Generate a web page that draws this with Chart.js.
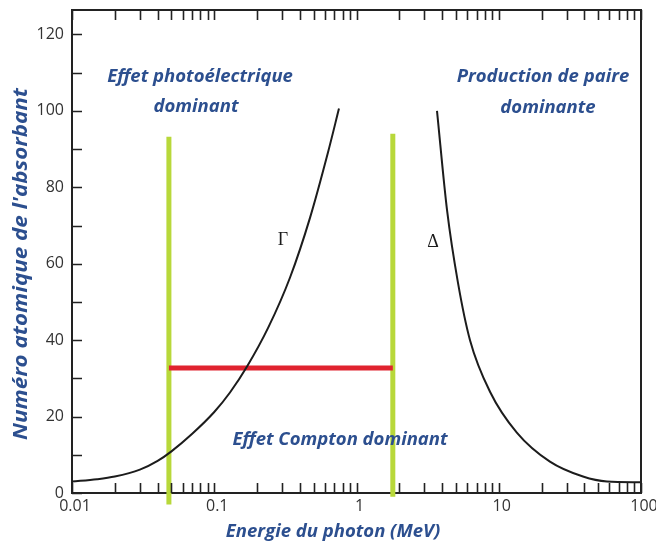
<!DOCTYPE html>
<html>
<head>
<meta charset="utf-8">
<script src="https://cdn.jsdelivr.net/npm/chart.js@4.4.1/dist/chart.umd.min.js"></script>
<style>
  html, body { margin: 0; padding: 0; background: #ffffff; }
  #wrap { width: 656px; height: 544px; }
</style>
</head>
<body>
<div id="wrap"><canvas id="c" width="656" height="544"></canvas></div>
<script>
// ---- data ----
const gammaEnergy = [0.01, 0.015, 0.02, 0.03, 0.04, 0.05, 0.07, 0.1, 0.129, 0.17, 0.239, 0.341, 0.471, 0.63, 0.753];
const gammaZ      = [3.0, 3.6, 4.3, 6.1, 8.4, 10.9, 15.5, 21.2, 26.3, 33.1, 43.2, 56.4, 72.0, 89.1, 100.6];

const deltaEnergy = [3.68, 4.33, 5.17, 6.28, 8.68, 13.4, 22.9, 39.1, 57.7, 100];
const deltaZ      = [100, 74, 55, 40, 26.5, 15.8, 8.2, 4.3, 3.0, 2.8];

const greenLeftEnergy  = [0.048, 0.048];
const greenLeftZ       = [93.2, -3];
const greenRightEnergy = [1.8, 1.8];
const greenRightZ      = [94, -1];

const redEnergy = [0.048, 1.8];
const redZ      = [32.7, 32.7];

const xTickLabels = ['0.01', '0.1', '1', '10', '100'];
const xDecades    = [0.01, 0.1, 1, 10, 100];
const yTickLabels = [0, 20, 40, 60, 80, 100, 120];
const yMinorTicks = [10, 30, 50, 70, 90, 110];

const regionTexts = [
  ['Effet photoélectrique', 'dominant'],
  ['Production de paire', 'dominante'],
  ['Effet Compton dominant']
];
const curveNames = ['Γ', 'Δ'];
const xTitle = 'Energie du photon (MeV)';
const yTitle = "Numéro atomique de l'absorbant";

// ---- build ----
const pts = (xs, ys) => xs.map((v, i) => ({ x: v, y: ys[i] }));

const xTickValues = [];
for (let d = 0; d < xDecades.length - 1; d++) {
  for (let m = 1; m <= 9; m++) xTickValues.push(+(xDecades[d] * m).toPrecision(6));
}
xTickValues.push(100);

const BLUE = '#2c4f8f';
const BLACK = '#1c1c1c';
const GREEN = '#b8d83a';
const RED = '#e0232f';
const ANNOT_FONT = "'Open Sans', sans-serif";

const decor = {
  id: 'decor',
  afterDraw(chart) {
    const ctx = chart.ctx;
    const xs = chart.scales.x, ys = chart.scales.y;
    ctx.save();
    // frame top/right
    ctx.strokeStyle = '#222';
    ctx.lineWidth = 2;
    ctx.beginPath();
    ctx.moveTo(xs.left, ys.top);
    ctx.lineTo(xs.right, ys.top);
    ctx.lineTo(xs.right, ys.bottom);
    ctx.stroke();
    // inward ticks
    ctx.lineWidth = 1.6;
    ctx.beginPath();
    xs.ticks.forEach(t => {
      const px = Math.round(xs.getPixelForValue(t.value)) + 0.5;
      ctx.moveTo(px, ys.bottom); ctx.lineTo(px, ys.bottom - 10);
      ctx.moveTo(px, ys.top); ctx.lineTo(px, ys.top + 10);
    });
    ys.ticks.forEach(t => {
      const py = Math.round(ys.getPixelForValue(t.value)) + 0.5;
      ctx.moveTo(xs.left, py); ctx.lineTo(xs.left + 10, py);
    });
    ctx.stroke();

    // region annotations
    ctx.fillStyle = BLUE;
    ctx.textAlign = 'center';
    ctx.textBaseline = 'middle';
    ctx.font = "italic bold 18.5px " + ANNOT_FONT;
    ctx.fillText(regionTexts[0][0], 200, 77);
    ctx.fillText(regionTexts[0][1], 196, 107);
    ctx.fillText(regionTexts[1][0], 543, 77);
    ctx.fillText(regionTexts[1][1], 548, 108);
    ctx.fillText(regionTexts[2][0], 340, 440);
    // axis titles
    ctx.fillText(xTitle, 333, 532);
    ctx.save();
    ctx.translate(22, 264);
    ctx.rotate(-Math.PI / 2);
    ctx.font = "italic bold 19px " + ANNOT_FONT;
    const w = ctx.measureText(yTitle).width;
    ctx.scale(352 / w, 1);
    ctx.fillText(yTitle, 0, 0);
    ctx.restore();

    // curve names
    ctx.fillStyle = BLACK;
    ctx.font = "18px 'Liberation Serif', 'DejaVu Serif', serif";
    ctx.fillText(curveNames[0], 283, 240);
    ctx.fillText(curveNames[1], 433, 242);
    ctx.restore();
  }
};

new Chart(document.getElementById('c'), {
  type: 'line',
  data: {
    datasets: [
      { label: 'Γ', data: pts(gammaEnergy, gammaZ), borderColor: BLACK, borderWidth: 2,
        pointRadius: 0, cubicInterpolationMode: 'monotone', fill: false, order: 1 },
      { label: 'Δ', data: pts(deltaEnergy, deltaZ), borderColor: BLACK, borderWidth: 2,
        pointRadius: 0, cubicInterpolationMode: 'monotone', fill: false, order: 1 },
      { label: 'Z', data: pts(redEnergy, redZ), borderColor: RED, borderWidth: 5,
        pointRadius: 0, tension: 0, fill: false, order: 2, borderCapStyle: 'butt' },
      { label: 'E1', data: pts(greenLeftEnergy, greenLeftZ), borderColor: GREEN, borderWidth: 5,
        pointRadius: 0, tension: 0, fill: false, clip: false, order: 3 },
      { label: 'E2', data: pts(greenRightEnergy, greenRightZ), borderColor: GREEN, borderWidth: 5,
        pointRadius: 0, tension: 0, fill: false, clip: false, order: 3 }
    ]
  },
  options: {
    responsive: false,
    devicePixelRatio: 1,
    animation: false,
    layout: { padding: { left: 0, top: 10, right: 15, bottom: 0 } },
    plugins: { legend: { display: false }, tooltip: { enabled: false } },
    scales: {
      x: {
        type: 'logarithmic',
        min: 0.01, max: 100,
        grid: { display: false, drawTicks: false },
        border: { display: true, color: '#222', width: 2 },
        afterBuildTicks: (s) => { s.ticks = xTickValues.map(v => ({ value: v })); },
        afterFit: (s) => { s.height = 51; s.paddingLeft = 0; s.paddingRight = 0; },
        ticks: {
          autoSkip: false, maxRotation: 0, padding: 4, labelOffset: 3,
          color: '#333',
          font: { family: "'Open Sans', sans-serif", size: 16 },
          callback: (v) => {
            const i = xDecades.findIndex(d => Math.abs(d - v) / d < 1e-6);
            return i >= 0 ? xTickLabels[i] : '';
          }
        }
      },
      y: {
        type: 'linear',
        min: 0, max: 126.4,
        grid: { display: false, drawTicks: false },
        border: { display: true, color: '#222', width: 2 },
        afterBuildTicks: (s) => {
          s.ticks = yTickLabels.concat(yMinorTicks).sort((a, b) => a - b).map(v => ({ value: v }));
        },
        afterFit: (s) => { s.width = 72; s.paddingTop = 0; s.paddingBottom = 0; },
        ticks: {
          autoSkip: false, padding: 8,
          color: '#333',
          font: { family: "'Open Sans', sans-serif", size: 16 },
          callback: (v) => yTickLabels.includes(v) ? String(v) : ''
        }
      }
    }
  },
  plugins: [decor]
});
</script>
</body>
</html>
